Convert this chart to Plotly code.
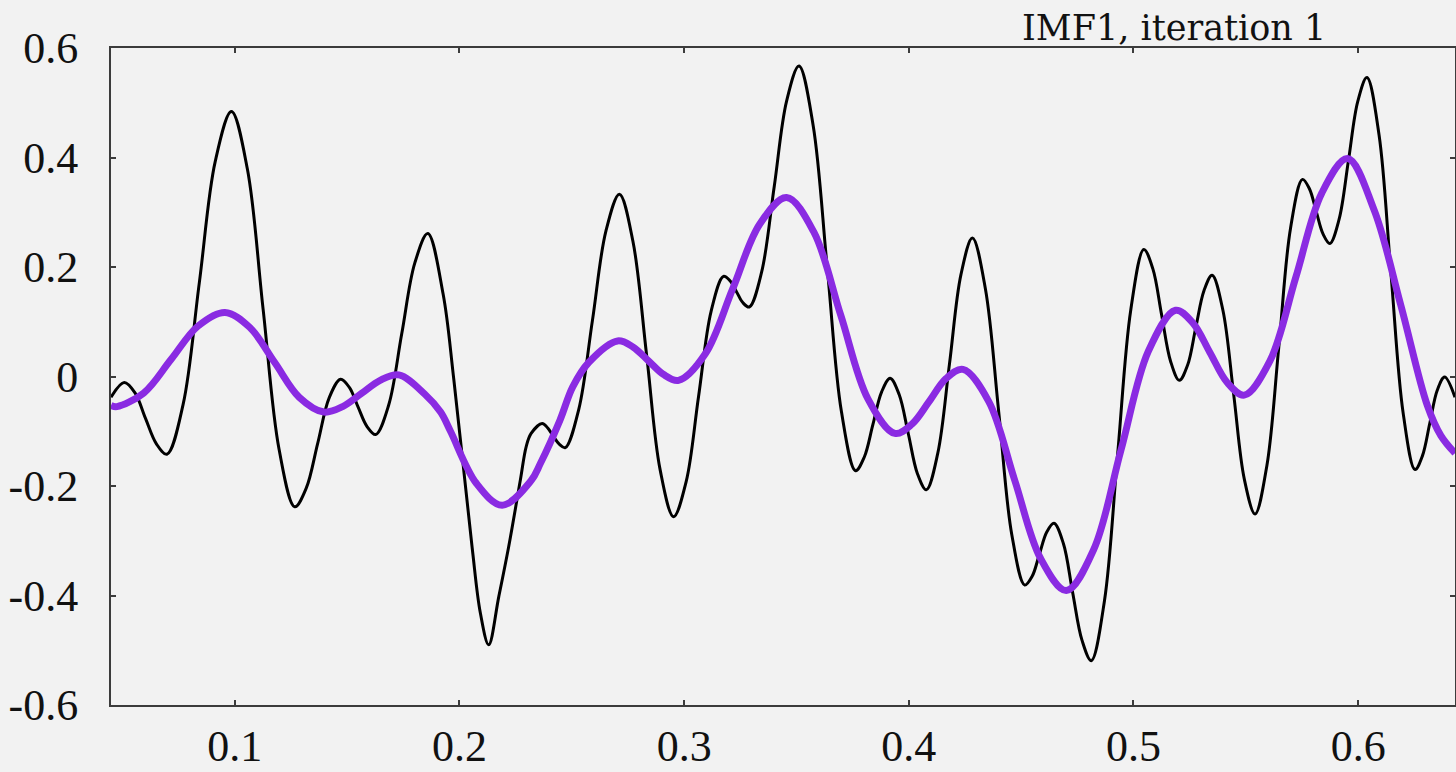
import plotly.graph_objects as go

# Signal samples (extrema plus shoulder readings along each swing)
signal_x = [0.0449, 0.0508, 0.0556, 0.0603, 0.0651, 0.0698, 0.0770, 0.0842, 0.0913, 0.0985,
            0.1056, 0.1126, 0.1197, 0.1267, 0.1318, 0.1369, 0.1420, 0.1471, 0.1510, 0.1549,
            0.1588, 0.1627, 0.1685, 0.1743, 0.1801, 0.1859, 0.1927, 0.1975, 0.2056, 0.2093,
            0.2130, 0.2175, 0.2219, 0.2271, 0.2297, 0.2319, 0.2368, 0.2393, 0.2419, 0.2445,
            0.2471, 0.2531, 0.2592, 0.2652, 0.2712, 0.2772, 0.2833, 0.2893, 0.2953, 0.3009,
            0.3064, 0.3120, 0.3175, 0.3204, 0.3233, 0.3261, 0.3290, 0.3345, 0.3401, 0.3456,
            0.3511, 0.3574, 0.3637, 0.3700, 0.3763, 0.3802, 0.3840, 0.3879, 0.3917, 0.3957,
            0.3998, 0.4038, 0.4078, 0.4129, 0.4181, 0.4232, 0.4283, 0.4341, 0.4400, 0.4458,
            0.4516, 0.4549, 0.4581, 0.4614, 0.4646, 0.4688, 0.4729, 0.4771, 0.4812, 0.4871,
            0.4929, 0.4988, 0.5046, 0.5086, 0.5125, 0.5165, 0.5204, 0.5241, 0.5277, 0.5314,
            0.5350, 0.5398, 0.5446, 0.5493, 0.5541, 0.5594, 0.5647, 0.5699, 0.5752, 0.5783,
            0.5813, 0.5844, 0.5874, 0.5915, 0.5957, 0.5998, 0.6039, 0.6093, 0.6146, 0.6200,
            0.6253, 0.6286, 0.6319, 0.6352, 0.6385, 0.6431]
signal_y = [-0.038, -0.011, -0.030, -0.077, -0.123, -0.142, -0.051, 0.171, 0.393, 0.484,
            0.379, 0.123, -0.133, -0.238, -0.204, -0.122, -0.039, -0.005, -0.020, -0.056,
            -0.091, -0.106, -0.052, 0.078, 0.207, 0.261, 0.151, -0.006, -0.311, -0.432,
            -0.490, -0.402, -0.311, -0.189, -0.128, -0.104, -0.086, -0.094, -0.110, -0.124,
            -0.130, -0.060, 0.103, 0.266, 0.333, 0.247, 0.039, -0.170, -0.256, -0.192,
            -0.037, 0.119, 0.183, 0.175, 0.155, 0.135, 0.127, 0.191, 0.347, 0.503,
            0.567, 0.459, 0.198, -0.064, -0.172, -0.147, -0.088, -0.028, -0.003, -0.033,
            -0.105, -0.177, -0.207, -0.140, 0.023, 0.186, 0.253, 0.160, -0.064, -0.288,
            -0.381, -0.365, -0.325, -0.284, -0.268, -0.305, -0.394, -0.482, -0.519, -0.409,
            -0.144, 0.122, 0.232, 0.197, 0.113, 0.028, -0.007, 0.021, 0.089, 0.157,
            0.185, 0.121, -0.033, -0.187, -0.251, -0.162, 0.055, 0.271, 0.360, 0.343,
            0.302, 0.260, 0.243, 0.287, 0.395, 0.502, 0.546, 0.441, 0.188, -0.066,
            -0.170, -0.145, -0.085, -0.025, -0.001, -0.038]

# Mean envelope samples
mean_x = [0.0449, 0.0475, 0.0595, 0.0716, 0.0836, 0.0956, 0.1066, 0.1177, 0.1287, 0.1397,
          0.1480, 0.1564, 0.1647, 0.1730, 0.1845, 0.1916, 0.1960, 0.2075, 0.2190, 0.2319,
          0.2360, 0.2447, 0.2504, 0.2576, 0.2704, 0.2772, 0.2840, 0.2907, 0.2975, 0.3095,
          0.3216, 0.3336, 0.3456, 0.3577, 0.3697, 0.3818, 0.3938, 0.4014, 0.4090, 0.4165,
          0.4241, 0.4356, 0.4471, 0.4586, 0.4701, 0.4823, 0.4944, 0.5066, 0.5187, 0.5264,
          0.5340, 0.5417, 0.5493, 0.5608, 0.5723, 0.5838, 0.5953, 0.6071, 0.6190, 0.6308,
          0.6368, 0.6431]
mean_y = [-0.053, -0.055, -0.030, 0.031, 0.092, 0.117, 0.090, 0.026, -0.038, -0.065,
          -0.055, -0.031, -0.007, 0.003, -0.032, -0.065, -0.100, -0.195, -0.235, -0.190,
          -0.159, -0.080, -0.019, 0.026, 0.065, 0.054, 0.029, 0.004, -0.007, 0.042,
          0.160, 0.278, 0.327, 0.264, 0.112, -0.041, -0.104, -0.087, -0.046, -0.004,
          0.013, -0.046, -0.189, -0.332, -0.391, -0.316, -0.135, 0.046, 0.121, 0.098,
          0.044, -0.011, -0.034, 0.029, 0.182, 0.335, 0.398, 0.304, 0.130, -0.053,
          -0.108, -0.140]

x_ticks = [0.1, 0.2, 0.3, 0.4, 0.5, 0.6]
x_tick_text = ["0.1", "0.2", "0.3", "0.4", "0.5", "0.6"]
y_ticks = [-0.6, -0.4, -0.2, 0, 0.2, 0.4, 0.6]
y_tick_text = ["-0.6", "-0.4", "-0.2", "0", "0.2", "0.4", "0.6"]
title_text = "IMF1, iteration 1"

fig = go.Figure()
fig.add_trace(go.Scatter(x=signal_x, y=signal_y, mode="lines",
                         line=dict(color="#000000", width=3, shape="spline", smoothing=1.0),
                         showlegend=False, hoverinfo="skip"))
fig.add_trace(go.Scatter(x=mean_x, y=mean_y, mode="lines",
                         line=dict(color="#8a2be2", width=7, shape="spline", smoothing=1.0),
                         showlegend=False, hoverinfo="skip"))

axis_common = dict(showgrid=False, zeroline=False, showline=True, mirror="ticks",
                   linecolor="#3c3c3c", linewidth=2, ticks="inside", ticklen=5,
                   tickwidth=1.5, tickcolor="#3c3c3c", automargin=False,
                   tickfont=dict(family="Liberation Serif", size=44, color="#111111"))

fig.update_xaxes(range=[0.0449, 0.6431], tickvals=x_ticks, ticktext=x_tick_text,
                 ticklabelstandoff=1, **axis_common)
fig.update_yaxes(range=[-0.6, 0.6], tickvals=y_ticks, ticktext=y_tick_text,
                 ticklabelstandoff=22, **axis_common)

fig.add_annotation(text=title_text, xref="paper", yref="paper", x=0.676, y=1.031,
                   xanchor="left", yanchor="middle", showarrow=False,
                   font=dict(family="DejaVu Serif", size=35, color="#111111"))

fig.update_layout(width=1456, height=772, paper_bgcolor="#f2f2f2", plot_bgcolor="#f2f2f2",
                  margin=dict(l=111, r=1, t=48, b=67, pad=0))

fig.write_html("out.html")
